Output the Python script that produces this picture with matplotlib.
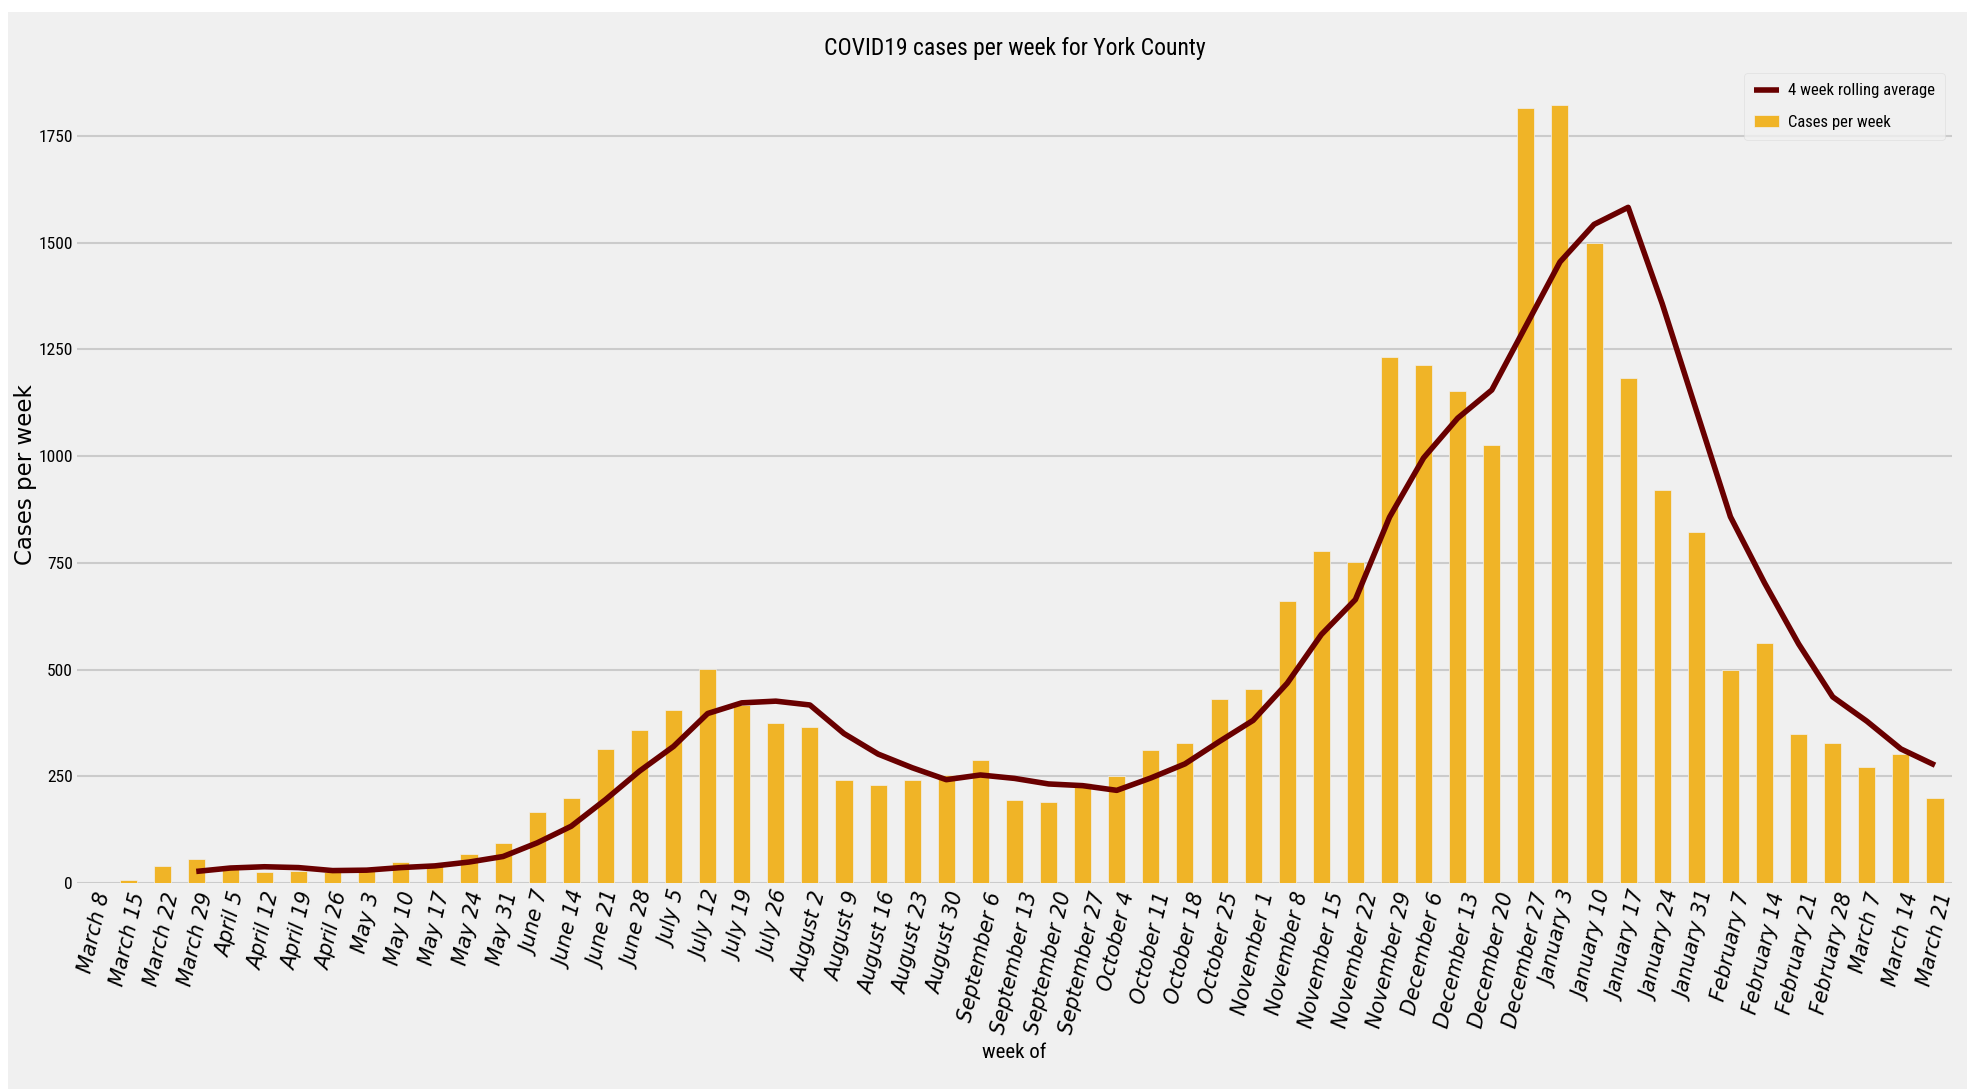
import matplotlib
matplotlib.use("Agg")
import matplotlib.pyplot as plt
from matplotlib import font_manager
from matplotlib.patches import Rectangle

weeks = ["March 8", "March 15", "March 22", "March 29", "April 5", "April 12", "April 19",
         "April 26", "May 3", "May 10", "May 17", "May 24", "May 31", "June 7", "June 14",
         "June 21", "June 28", "July 5", "July 12", "July 19", "July 26", "August 2",
         "August 9", "August 16", "August 23", "August 30", "September 6", "September 13",
         "September 20", "September 27", "October 4", "October 11", "October 18",
         "October 25", "November 1", "November 8", "November 15", "November 22",
         "November 29", "December 6", "December 13", "December 20", "December 27",
         "January 3", "January 10", "January 17", "January 24", "January 31", "February 7",
         "February 14", "February 21", "February 28", "March 7", "March 14", "March 21"]

cases = [0, 6, 40, 57, 32, 26, 29, 25, 28, 48, 40, 69, 93, 166, 200, 314, 358, 405, 502,
         418, 375, 365, 241, 229, 241, 254, 288, 194, 189, 234, 250, 311, 327, 430, 455,
         660, 778, 753, 1232, 1213, 1152, 1027, 1816, 1823, 1500, 1183, 920, 822, 500, 562,
         349, 329, 271, 303, 199]

# rolling average starts at the 4th week (March 29)
rolling = [27, 35, 38, 36, 29, 30, 36, 40, 49, 62, 94, 133, 195, 262, 320, 397, 422, 426,
           417, 350, 302, 270, 242, 253, 245, 232, 228, 217, 246, 279, 331, 381, 468, 582,
           664, 857, 996, 1089, 1155, 1305, 1455, 1543, 1583, 1357, 1107, 858, 703, 560,
           436, 379, 314, 276]

plt.style.use("fivethirtyeight")

installed = {f.name for f in font_manager.fontManager.ttflist}
narrow = "DejaVu Sans"
for name in ["Liberation Sans Narrow", "DejaVu Sans Condensed", "Roboto Condensed", "Open Sans Condensed"]:
    if name in installed:
        narrow = name
        break
narrow_font = [narrow, "DejaVu Sans"]

bar_color = "#F0B427"
line_color = "#690000"

fig = plt.figure(figsize=(19.67, 10.89), dpi=100, facecolor="white")
fig.add_artist(Rectangle((8 / 1967, 0), 1, 1 - 12 / 1089, transform=fig.transFigure,
                         facecolor="#f0f0f0", edgecolor="none", zorder=-10))

ax = fig.add_axes([0.0391, 0.1892, 0.9533, 0.7502])
ax.set_facecolor("#f0f0f0")

x = list(range(len(weeks)))
ax.bar(x, cases, width=0.5, color=bar_color, edgecolor="#f0f0f0", linewidth=0.5,
       label="Cases per week", zorder=2)
ax.plot(x[3:], rolling, color=line_color, linewidth=4, label="4 week rolling average", zorder=3)

ax.set_xlim(-0.5, len(weeks) - 0.5)
ax.set_yticks(range(0, 1751, 250))
ax.grid(axis="x", visible=False)
ax.grid(axis="y", color="#cbcbcb", linewidth=1.5)
ax.set_axisbelow(True)
for s in ax.spines.values():
    s.set_visible(False)

ax.set_xticks(x)
ax.set_xticklabels(weeks, rotation=77, ha="center", fontsize=14.8, fontstyle="italic",
                   family="DejaVu Sans")
for lab in ax.get_yticklabels():
    lab.set_family(narrow_font)
    lab.set_fontsize(12.6)
ax.tick_params(axis="x", length=0, pad=5)
ax.tick_params(axis="y", length=0, pad=3)

ax.set_title("COVID19 cases per week for York County", fontsize=17, family=narrow_font, pad=8)
ax.set_xlabel("week of", fontsize=15, family=narrow_font, labelpad=5)
ax.set_ylabel("Cases per week", fontsize=16.5, family="DejaVu Sans")
ax.yaxis.set_label_coords(-0.0215, 0.5)

leg = ax.legend(loc="upper right", prop={"family": narrow_font, "size": 12}, handlelength=1.5,
                labelspacing=1.0, borderpad=0.6, handletextpad=0.5, frameon=True,
                fancybox=True, facecolor="#f0f0f0", edgecolor="#dcdcdc", framealpha=0.8,
                borderaxespad=0.45)

fig.savefig("out.png", dpi=100, facecolor="white")
